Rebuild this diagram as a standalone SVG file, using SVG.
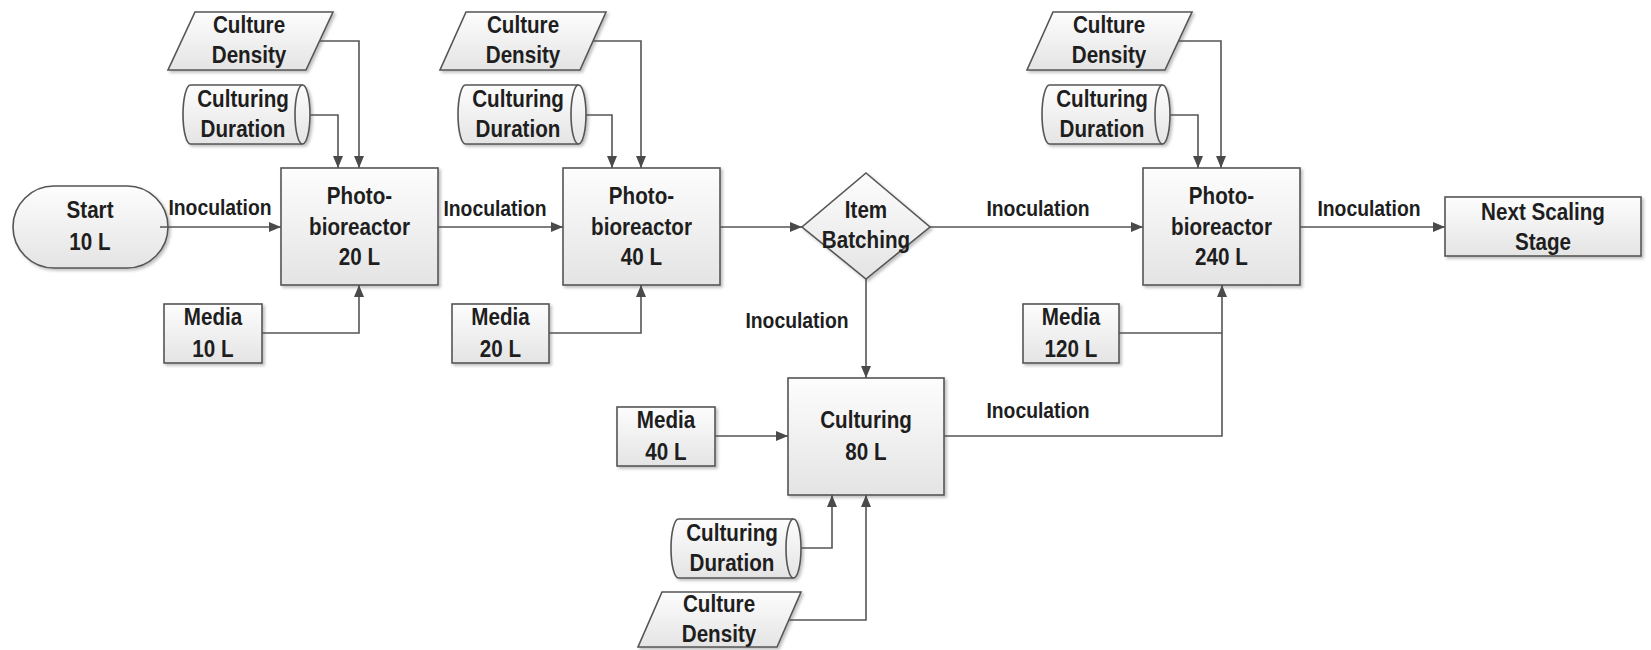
<svg xmlns="http://www.w3.org/2000/svg" width="1651" height="650" viewBox="0 0 1651 650">
  <defs>
    <linearGradient id="fillGrad" x1="0" y1="0" x2="0" y2="1">
      <stop offset="0" stop-color="#fdfdfd"/>
      <stop offset="1" stop-color="#e4e4e4"/>
    </linearGradient>
    <filter id="shadow" x="-10%" y="-10%" width="130%" height="130%">
      <feDropShadow dx="2" dy="2" stdDeviation="1.5" flood-color="#000" flood-opacity="0.25"/>
    </filter>
    <marker id="arrow" markerUnits="userSpaceOnUse" markerWidth="13" markerHeight="11" refX="12" refY="5" orient="auto">
      <path d="M0,0 L12,5 L0,10 Z" fill="#4a4a4a"/>
    </marker>
    <style>
      .shape { fill: url(#fillGrad); stroke: #555; stroke-width: 1.6; filter: url(#shadow); }
      .edge { fill: none; stroke: #555; stroke-width: 1.6; }
      .arr { marker-end: url(#arrow); }
      text { font-family: "Liberation Sans", Arial, sans-serif; font-weight: bold; fill: #1e1e1e; text-anchor: middle; }
      .node { font-size: 24px; }
      .lbl { font-size: 21.5px; }
    </style>
  </defs>

  <!-- Texts are narrowed horizontally with scale(0.86,1) / scale(0.9,1) to give a condensed face -->

  <!-- Stage 1 -->
  <g id="start">
    <rect class="shape" x="13" y="186" width="155" height="82" rx="41" ry="41"/>
    <text class="node" transform="translate(90,218) scale(0.86,1)">Start</text>
    <text class="node" transform="translate(90,250) scale(0.86,1)">10 L</text>
  </g>
  <g id="density1">
    <polygon class="shape" points="195,12 333,12 306,70 168,70"/>
    <text class="node" transform="translate(249,33) scale(0.86,1)">Culture</text>
    <text class="node" transform="translate(249,63) scale(0.86,1)">Density</text>
  </g>
  <g id="duration1">
    <path class="shape" d="M190.5,85 H302.5 A7.5,29.5 0 0 1 302.5,144 H190.5 A7.5,29.5 0 0 1 190.5,85 Z"/>
    <path class="edge" d="M302.5,85 A7.5,29.5 0 0 0 302.5,144"/>
    <text class="node" transform="translate(243,107) scale(0.86,1)">Culturing</text>
    <text class="node" transform="translate(243,137) scale(0.86,1)">Duration</text>
  </g>
  <g id="pbr20">
    <rect class="shape" x="281" y="168" width="157" height="117"/>
    <text class="node" transform="translate(359.5,204) scale(0.86,1)">Photo-</text>
    <text class="node" transform="translate(359.5,235) scale(0.86,1)">bioreactor</text>
    <text class="node" transform="translate(359.5,265) scale(0.86,1)">20 L</text>
  </g>
  <g id="media10">
    <rect class="shape" x="164" y="304" width="98" height="59"/>
    <text class="node" transform="translate(213,325) scale(0.86,1)">Media</text>
    <text class="node" transform="translate(213,357) scale(0.86,1)">10 L</text>
  </g>

  <!-- Stage 2 -->
  <g id="density2">
    <polygon class="shape" points="466,12 606,12 580,70 440,70"/>
    <text class="node" transform="translate(523,33) scale(0.86,1)">Culture</text>
    <text class="node" transform="translate(523,63) scale(0.86,1)">Density</text>
  </g>
  <g id="duration2">
    <path class="shape" d="M465.5,85 H578.5 A7.5,29.5 0 0 1 578.5,144 H465.5 A7.5,29.5 0 0 1 465.5,85 Z"/>
    <path class="edge" d="M578.5,85 A7.5,29.5 0 0 0 578.5,144"/>
    <text class="node" transform="translate(518,107) scale(0.86,1)">Culturing</text>
    <text class="node" transform="translate(518,137) scale(0.86,1)">Duration</text>
  </g>
  <g id="pbr40">
    <rect class="shape" x="563" y="168" width="157" height="117"/>
    <text class="node" transform="translate(641.5,204) scale(0.86,1)">Photo-</text>
    <text class="node" transform="translate(641.5,235) scale(0.86,1)">bioreactor</text>
    <text class="node" transform="translate(641.5,265) scale(0.86,1)">40 L</text>
  </g>
  <g id="media20">
    <rect class="shape" x="452" y="304" width="97" height="59"/>
    <text class="node" transform="translate(500.5,325) scale(0.86,1)">Media</text>
    <text class="node" transform="translate(500.5,357) scale(0.86,1)">20 L</text>
  </g>

  <!-- Batching -->
  <g id="batching">
    <polygon class="shape" points="866,173 930,227 866,279 802,227"/>
    <text class="node" transform="translate(866,218) scale(0.86,1)">Item</text>
    <text class="node" transform="translate(866,248) scale(0.86,1)">Batching</text>
  </g>

  <!-- Culturing branch -->
  <g id="culturing80">
    <rect class="shape" x="788" y="378" width="156" height="117"/>
    <text class="node" transform="translate(866,428) scale(0.86,1)">Culturing</text>
    <text class="node" transform="translate(866,460) scale(0.86,1)">80 L</text>
  </g>
  <g id="media40">
    <rect class="shape" x="617" y="407" width="98" height="59"/>
    <text class="node" transform="translate(666,428) scale(0.86,1)">Media</text>
    <text class="node" transform="translate(666,460) scale(0.86,1)">40 L</text>
  </g>
  <g id="duration4">
    <path class="shape" d="M678.5,519 H793.5 A7.5,29.5 0 0 1 793.5,578 H678.5 A7.5,29.5 0 0 1 678.5,519 Z"/>
    <path class="edge" d="M793.5,519 A7.5,29.5 0 0 0 793.5,578"/>
    <text class="node" transform="translate(732,541) scale(0.86,1)">Culturing</text>
    <text class="node" transform="translate(732,571) scale(0.86,1)">Duration</text>
  </g>
  <g id="density4">
    <polygon class="shape" points="662,592 801,592 777,647 638,647"/>
    <text class="node" transform="translate(719,612) scale(0.86,1)">Culture</text>
    <text class="node" transform="translate(719,642) scale(0.86,1)">Density</text>
  </g>

  <!-- Stage 3 -->
  <g id="density3">
    <polygon class="shape" points="1053,12 1192,12 1165,70 1027,70"/>
    <text class="node" transform="translate(1109,33) scale(0.86,1)">Culture</text>
    <text class="node" transform="translate(1109,63) scale(0.86,1)">Density</text>
  </g>
  <g id="duration3">
    <path class="shape" d="M1049.5,85 H1162.5 A7.5,29.5 0 0 1 1162.5,144 H1049.5 A7.5,29.5 0 0 1 1049.5,85 Z"/>
    <path class="edge" d="M1162.5,85 A7.5,29.5 0 0 0 1162.5,144"/>
    <text class="node" transform="translate(1102,107) scale(0.86,1)">Culturing</text>
    <text class="node" transform="translate(1102,137) scale(0.86,1)">Duration</text>
  </g>
  <g id="pbr240">
    <rect class="shape" x="1143" y="168" width="157" height="117"/>
    <text class="node" transform="translate(1221.5,204) scale(0.86,1)">Photo-</text>
    <text class="node" transform="translate(1221.5,235) scale(0.86,1)">bioreactor</text>
    <text class="node" transform="translate(1221.5,265) scale(0.86,1)">240 L</text>
  </g>
  <g id="media120">
    <rect class="shape" x="1023" y="304" width="96" height="59"/>
    <text class="node" transform="translate(1071,325) scale(0.86,1)">Media</text>
    <text class="node" transform="translate(1071,357) scale(0.86,1)">120 L</text>
  </g>
  <g id="nextStage">
    <rect class="shape" x="1445" y="197" width="196" height="59"/>
    <text class="node" transform="translate(1543,220) scale(0.86,1)">Next Scaling</text>
    <text class="node" transform="translate(1543,250) scale(0.86,1)">Stage</text>
  </g>

  <!-- Connectors -->
  <g id="connectors">
    <path class="edge arr" d="M160,227 H281"/>
    <path class="edge arr" d="M319.5,41 H359 V168"/>
    <path class="edge arr" d="M310,115 H338 V168"/>
    <path class="edge arr" d="M262,333 H359 V285"/>

    <path class="edge arr" d="M438,227 H563"/>
    <path class="edge arr" d="M593,41 H641 V168"/>
    <path class="edge arr" d="M586,115 H612 V168"/>
    <path class="edge arr" d="M549,333 H641 V285"/>

    <path class="edge arr" d="M720,227 H802"/>
    <path class="edge arr" d="M930,227 H1143"/>
    <path class="edge arr" d="M866,279 V378"/>

    <path class="edge arr" d="M715,436 H788"/>
    <path class="edge arr" d="M801,548 H832 V495"/>
    <path class="edge arr" d="M789,620 H866 V495"/>

    <path class="edge arr" d="M1178.5,41 H1221 V168"/>
    <path class="edge arr" d="M1170,115 H1198 V168"/>
    <path class="edge arr" d="M944,436 H1222 V285"/>
    <path class="edge" d="M1119,333 H1222"/>
    <path class="edge arr" d="M1300,227 H1445"/>
  </g>

  <!-- Connector labels -->
  <g id="labels">
    <text class="lbl" transform="translate(220,215) scale(0.9,1)">Inoculation</text>
    <text class="lbl" transform="translate(495,216) scale(0.9,1)">Inoculation</text>
    <text class="lbl" transform="translate(797,328) scale(0.9,1)">Inoculation</text>
    <text class="lbl" transform="translate(1038,216) scale(0.9,1)">Inoculation</text>
    <text class="lbl" transform="translate(1369,216) scale(0.9,1)">Inoculation</text>
    <text class="lbl" transform="translate(1038,418) scale(0.9,1)">Inoculation</text>
  </g>
</svg>
